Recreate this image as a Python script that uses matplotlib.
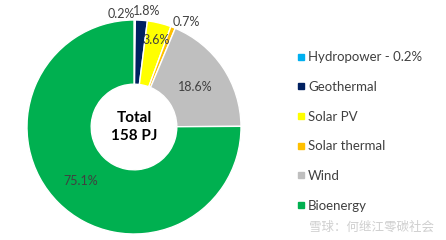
import matplotlib
matplotlib.use("Agg")
import matplotlib.pyplot as plt
import numpy as np
from matplotlib.lines import Line2D

# data
sources = ["Hydropower", "Geothermal", "Solar PV", "Solar thermal", "Wind", "Bioenergy"]
shares = [0.2, 1.8, 3.6, 0.7, 18.6, 75.1]
legend_labels = ["Hydropower - 0.2%", "Geothermal", "Solar PV", "Solar thermal", "Wind", "Bioenergy"]
colors = ["#00b0f0", "#002060", "#ffff00", "#ffc000", "#bfbfbf", "#00b050"]
total_text = "Total\n158 PJ"

# label placement tweaks (radius, angle nudge in degrees) - layout only
label_r = [1.06, 1.09, 0.84, 1.10, 0.69, 0.71]
label_da = [6.8, -2.2, -0.8, -5.2, -0.6, 0.4]

plt.rcParams["font.family"] = ["Lato", "DejaVu Sans"]
TXT = "#404040"

W, H = 446, 240
fig = plt.figure(figsize=(W / 100, H / 100), dpi=100)
cx, cy, R = 134, 127, 107
ax = fig.add_axes([(cx - R) / W, (H - cy - R) / H, 2 * R / W, 2 * R / H])

wedges, _ = ax.pie(
    shares,
    colors=colors,
    startangle=90,
    counterclock=False,
    radius=1.0,
    wedgeprops=dict(width=0.6, edgecolor="white", linewidth=1.0),
)
ax.set_xlim(-1, 1)
ax.set_ylim(-1, 1)
ax.set_aspect("equal")
ax.axis("off")

for w, val, r, da in zip(wedges, shares, label_r, label_da):
    ang = np.deg2rad((w.theta1 + w.theta2) / 2 + da)
    ax.text(r * np.cos(ang), r * np.sin(ang), f"{val}%", ha="center", va="center",
            fontsize=9, color=TXT)

ax.text(0, 0.0, total_text, ha="center", va="center", fontsize=11,
        fontweight="bold", color="black", linespacing=1.3)

handles = [Line2D([], [], marker="s", linestyle="none", markersize=5,
                  markerfacecolor=c, markeredgecolor=c) for c in colors]
fig.legend(handles, legend_labels, loc="upper left", bbox_to_anchor=(291 / W, 1 - 46 / H),
           frameon=False, fontsize=9.5, labelcolor=TXT, handlelength=0.7,
           handletextpad=0.2, labelspacing=1.34, borderaxespad=0)

fig.text(434 / W, 1 - 227 / H, "雪球：何继江零碳社会", ha="right", va="center",
         fontsize=9, color="#cfcfcf", family=["Noto Sans CJK SC", "DejaVu Sans"])

fig.savefig("out.png", dpi=100)
